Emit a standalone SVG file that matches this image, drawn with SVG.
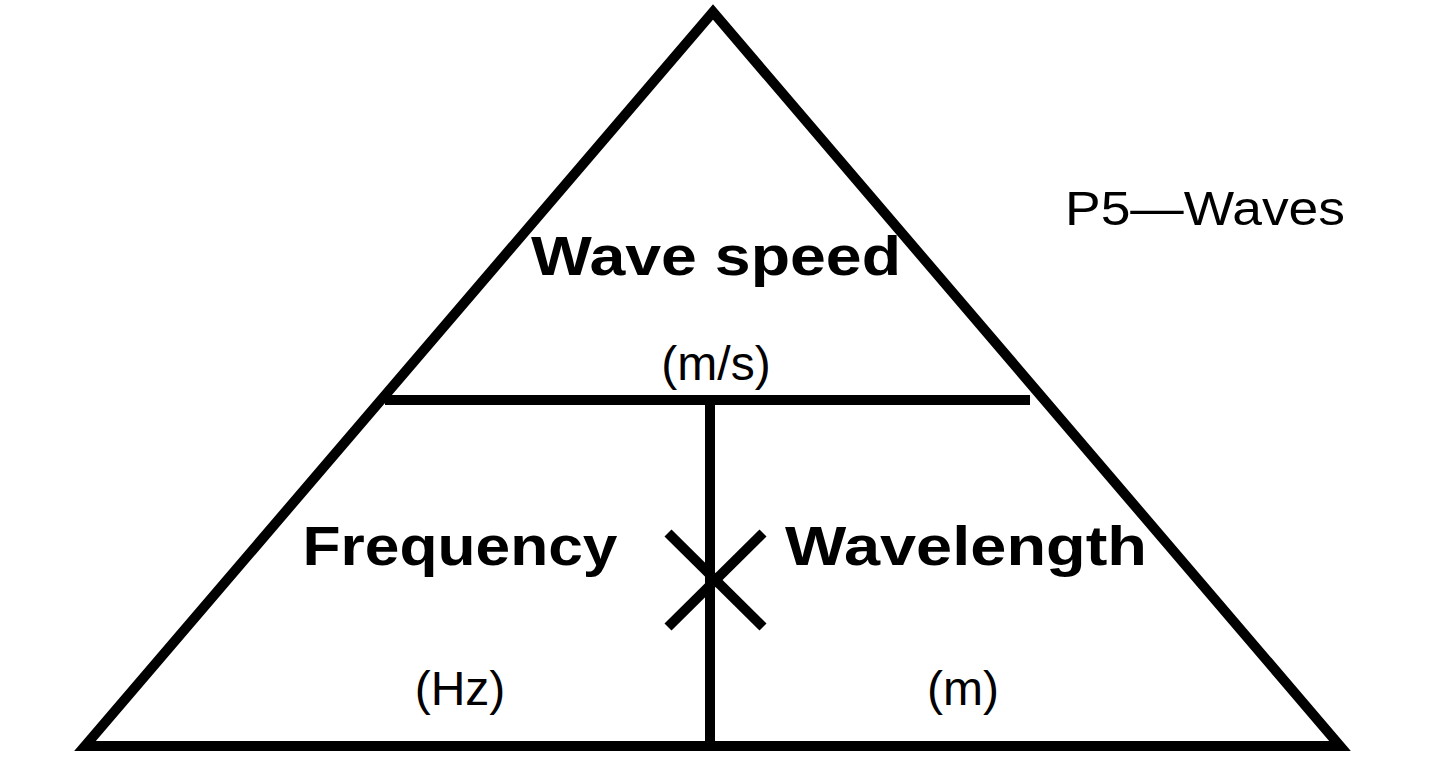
<svg xmlns="http://www.w3.org/2000/svg" width="1440" height="768" viewBox="0 0 1440 768">
<style>
.l{stroke:#000;stroke-width:10;fill:none;stroke-linejoin:miter}
.b{font-family:"Liberation Sans",Arial,sans-serif;font-weight:bold;font-size:56px;text-anchor:middle}
.n{font-family:"Liberation Sans",Arial,sans-serif;font-size:48px;text-anchor:middle}
</style>
<rect width="1440" height="768" fill="#fff"/>
<g id="connectors">
<polygon class="l" points="713,12 85,746 1340,746"/>
<line class="l" x1="385" y1="400" x2="1030" y2="400"/>
<line class="l" x1="710" y1="400" x2="710" y2="746"/>
<line class="l" stroke-width="13" x1="668" y1="533" x2="763" y2="627"/>
<line class="l" stroke-width="13" x1="668" y1="627" x2="763" y2="533"/>
</g>
<g id="top"><text class="b" x="716" y="275" textLength="370" lengthAdjust="spacingAndGlyphs">Wave speed</text><text class="n" x="716" y="380">(m/s)</text></g>
<g id="left"><text class="b" x="460" y="565" textLength="315" lengthAdjust="spacingAndGlyphs">Frequency</text><text class="n" x="460" y="705">(Hz)</text></g>
<g id="right"><text class="b" x="966" y="565" textLength="362" lengthAdjust="spacingAndGlyphs">Wavelength</text><text class="n" x="963" y="705">(m)</text></g>
<g id="title"><text class="n" x="1065" y="225" font-size="44" style="text-anchor:start" textLength="280" lengthAdjust="spacingAndGlyphs">P5—Waves</text></g>
</svg>
